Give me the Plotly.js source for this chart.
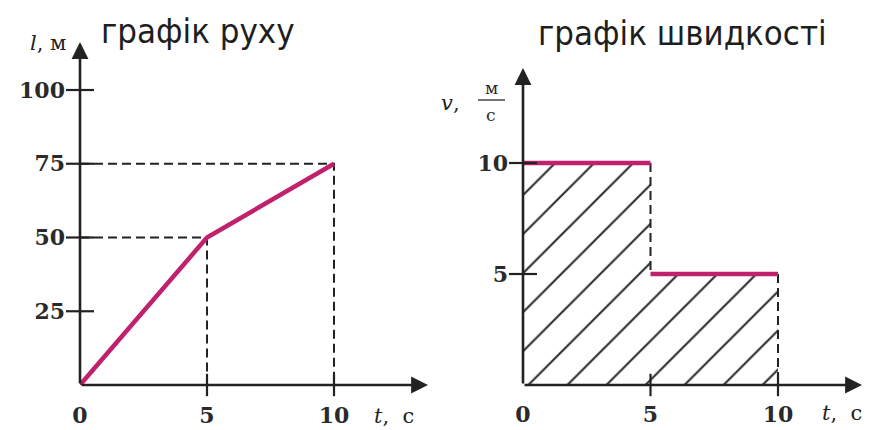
<!DOCTYPE html>
<html>
<head>
<meta charset="utf-8">
<script src="https://cdn.plot.ly/plotly-3.0.1.min.js"></script>
<style>html,body{margin:0;padding:0;background:#fff;}#chart{width:869px;height:430px;}</style>
</head>
<body>
<div id="chart"></div>
<script>
// ---- data ----
const titleLeft = 'графік руху';
const titleRight = 'графік швидкості';
const moveTimes = [0, 5, 10];        // t, c
const movePath = [0, 50, 75];        // l, м
const moveYTicks = [25, 50, 75, 100];
const moveXTicks = [0, 5, 10];
const speedTimes = [0, 5, 10];       // interval borders, c
const speedValues = [10, 5];         // v, м/с on each interval
const speedYTicks = [5, 10];
const speedXTicks = [0, 5, 10];

// ---- styling helpers ----
const W = 869, H = 430;
const px = x => x / W;
const py = y => 1 - y / H;
const INK = '#222222';
const PINK = '#c0206c';
const tickFont = {family: 'DejaVu Serif', size: 22, color: '#2a2a2a', weight: 'bold'};
const labFont = {family: 'DejaVu Serif', size: 21, color: '#222'};
const titleFont = {family: 'DejaVu Sans Condensed, DejaVu Sans', size: 34.5, color: '#1e1e1e'};

// dashed guide lines for motion graph
const gx = [], gy = [];
for (let i = 1; i < moveTimes.length; i++) {
  gx.push(0, moveTimes[i], moveTimes[i], null);
  gy.push(movePath[i], movePath[i], 0, null);
}
// dashed lines for speed graph
const sx = [], sy = [];
for (let i = 1; i < speedTimes.length; i++) {
  const prev = speedValues[i - 1];
  const next = i < speedValues.length ? speedValues[i] : 0;
  sx.push(speedTimes[i], speedTimes[i], null);
  sy.push(prev, next, null);
}
// pink segments for speed
const px2 = [], py2 = [];
for (let i = 0; i < speedValues.length; i++) {
  px2.push(speedTimes[i], speedTimes[i + 1], null);
  py2.push(speedValues[i], speedValues[i], null);
}
const fillY = speedValues.concat([speedValues[speedValues.length - 1]]);

const traces = [
  // left
  {x: gx, y: gy, xaxis: 'x', yaxis: 'y', mode: 'lines', line: {color: INK, width: 2, dash: '9px,5px'}},
  {x: moveTimes, y: movePath, xaxis: 'x', yaxis: 'y', mode: 'lines', line: {color: PINK, width: 4.5}},
  {x: moveYTicks.map(() => 0), y: moveYTicks, xaxis: 'x', yaxis: 'y', mode: 'markers', cliponaxis: false,
   marker: {symbol: 'line-ew', size: 20, line: {color: INK, width: 2.2}}},
  {x: moveXTicks.slice(1), y: moveXTicks.slice(1).map(() => 0), xaxis: 'x', yaxis: 'y', mode: 'markers', cliponaxis: false,
   marker: {symbol: 'line-ns', size: 16, line: {color: INK, width: 2.2}}},
  // right
  {x: speedTimes, y: fillY, xaxis: 'x2', yaxis: 'y2', mode: 'lines', line: {shape: 'hv', width: 0, color: 'rgba(0,0,0,0)'},
   fill: 'tozeroy', fillcolor: 'rgba(0,0,0,0)',
   fillpattern: {shape: '/', size: 27.6, solidity: 0.075, fgcolor: '#2a2a2a', bgcolor: 'rgba(255,255,255,0)'}},
  {x: sx, y: sy, xaxis: 'x2', yaxis: 'y2', mode: 'lines', line: {color: INK, width: 2, dash: '9px,5px'}},
  {x: px2, y: py2, xaxis: 'x2', yaxis: 'y2', mode: 'lines', line: {color: PINK, width: 4.5}},
  {x: speedYTicks.map(() => 0), y: speedYTicks, xaxis: 'x2', yaxis: 'y2', mode: 'markers', cliponaxis: false,
   marker: {symbol: 'line-ew', size: 20, line: {color: INK, width: 2.2}}},
  {x: speedXTicks.slice(1), y: speedXTicks.slice(1).map(() => 0), xaxis: 'x2', yaxis: 'y2', mode: 'markers', cliponaxis: false,
   marker: {symbol: 'line-ns', size: 16, line: {color: INK, width: 2.2}}}
];

const axBase = {showline: false, zeroline: false, showgrid: false, ticks: '', fixedrange: true, tickfont: tickFont};

const arrow = (xr, yr, x0, y0, x1, y1) => ({
  xref: xr, yref: yr, axref: xr, ayref: yr, x: x1, y: y1, ax: x0, ay: y0, text: '',
  showarrow: true, arrowhead: 2, arrowsize: 1.3, arrowwidth: 2.6, arrowcolor: INK, standoff: 0, startstandoff: 0
});
const txt = (x, y, text, font, xa, ya) => ({
  xref: 'paper', yref: 'paper', x: px(x), y: py(y), text: text, showarrow: false, font: font,
  xanchor: xa || 'center', yanchor: ya || 'middle'
});

const layout = {
  width: W, height: H,
  margin: {l: 0, r: 0, t: 0, b: 0},
  paper_bgcolor: '#fff', plot_bgcolor: 'rgba(0,0,0,0)',
  showlegend: false, hovermode: false,
  xaxis: Object.assign({}, axBase, {domain: [px(80), px(434)], range: [0, (434 - 80) / 25.4],
    tickvals: moveXTicks, ticktext: moveXTicks.map(String), ticklabelstandoff: 15, anchor: 'y'}),
  yaxis: Object.assign({}, axBase, {domain: [py(385), 1], range: [0, 385 / 2.95],
    tickvals: moveYTicks, ticktext: moveYTicks.map(String), ticklabelstandoff: 14, anchor: 'x'}),
  xaxis2: Object.assign({}, axBase, {domain: [px(523), 1], range: [0, (869 - 523) / 25.5],
    tickvals: speedXTicks, ticktext: speedXTicks.map(String), ticklabelstandoff: 14, anchor: 'y2'}),
  yaxis2: Object.assign({}, axBase, {domain: [py(385), 1], range: [0, 385 / 22.2],
    tickvals: speedYTicks, ticktext: speedYTicks.map(String), ticklabelstandoff: 14, anchor: 'x2'}),
  shapes: [
    {type: 'line', xref: 'paper', yref: 'paper', x0: px(478), x1: px(505), y0: py(100), y1: py(100),
     line: {color: '#444', width: 1.5}}
  ],
  annotations: [
    arrow('x', 'y', 0, 0, 0, (385 - 42) / 2.95),
    arrow('x', 'y', 0, 0, (428 - 80) / 25.4, 0),
    arrow('x2', 'y2', 0, 0, 0, (385 - 68) / 22.2),
    arrow('x2', 'y2', 0, 0, (862 - 523) / 25.5, 0),
    txt(198, 31, titleLeft, titleFont),
    txt(682, 33, titleRight, titleFont),
    txt(68, 43, '<i>l</i>, м', labFont, 'right'),
    txt(372, 416, '<i>t</i>,  с', labFont, 'left'),
    txt(820, 413, '<i>t</i>,  с', labFont, 'left'),
    txt(462, 103, '<i>v</i>,', labFont, 'right'),
    txt(491, 88, 'м', {family: 'DejaVu Serif', size: 17, color: '#2a2a2a'}),
    txt(491, 115, 'с', {family: 'DejaVu Serif', size: 17, color: '#2a2a2a'})
  ]
};

Plotly.newPlot('chart', traces, layout, {staticPlot: true, displayModeBar: false});
</script>
</body>
</html>
